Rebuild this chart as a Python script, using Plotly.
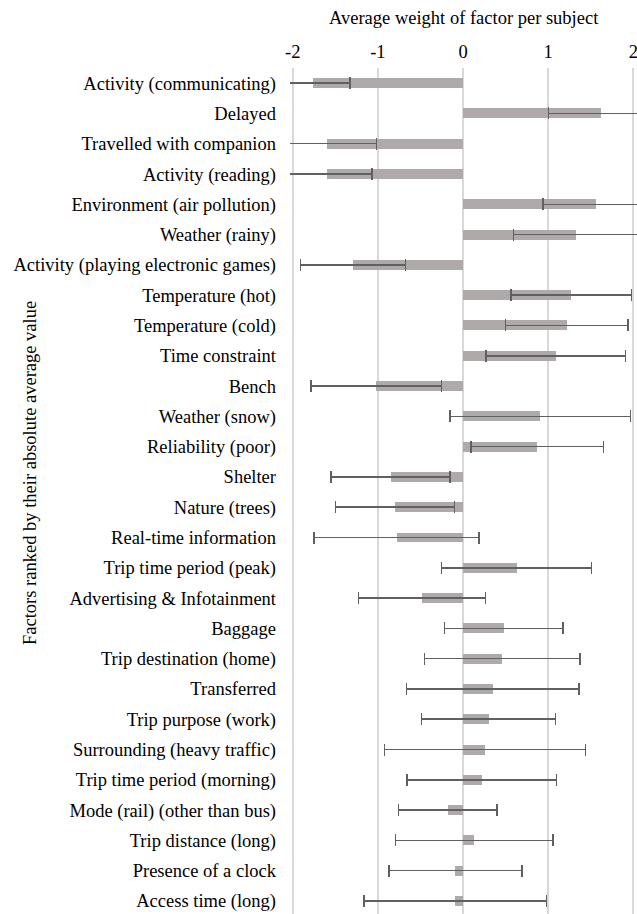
import plotly.graph_objects as go

categories = [
    "Activity (communicating)", "Delayed", "Travelled with companion",
    "Activity (reading)", "Environment (air pollution)", "Weather (rainy)",
    "Activity (playing electronic games)", "Temperature (hot)", "Temperature (cold)",
    "Time constraint", "Bench", "Weather (snow)", "Reliability (poor)", "Shelter",
    "Nature (trees)", "Real-time information", "Trip time period (peak)",
    "Advertising & Infotainment", "Baggage", "Trip destination (home)",
    "Transferred", "Trip purpose (work)", "Surrounding (heavy traffic)",
    "Trip time period (morning)", "Mode (rail) (other than bus)",
    "Trip distance (long)", "Presence of a clock", "Access time (long)",
]
mean_weight = [-1.76, 1.62, -1.60, -1.60, 1.56, 1.33, -1.29, 1.27, 1.22, 1.09,
               -1.02, 0.91, 0.87, -0.85, -0.80, -0.78, 0.63, -0.48, 0.48, 0.46,
               0.35, 0.30, 0.26, 0.22, -0.18, 0.13, -0.09, -0.09]
error = [0.43, 0.615, 0.583, 0.532, 0.622, 0.739, 0.616, 0.708, 0.718, 0.82,
         0.767, 1.06, 0.779, 0.70, 0.698, 0.968, 0.882, 0.745, 0.695, 0.912,
         1.011, 0.785, 1.18, 0.876, 0.579, 0.925, 0.78, 1.07]
x_ticks = [-2, -1, 0, 1, 2]
x_ticklabels = ["-2", "-1", "0", "1", "2"]

FONT = "Liberation Serif, Times New Roman, serif"

L, R, T, B = 290, 0, 68, 0
PW = 637 - L - R
PH = 914 - T - B

fig = go.Figure(go.Bar(
    x=mean_weight, y=categories, orientation="h",
    width=0.33,
    marker=dict(color="#AEAAAA", line=dict(width=0)),
    error_x=dict(type="data", array=error, visible=True,
                 color="#606060", thickness=1.5, width=6),
))

fig.update_layout(
    width=637, height=914,
    margin=dict(l=L, r=R, t=T, b=B),
    plot_bgcolor="white", paper_bgcolor="white",
    font=dict(family=FONT, size=18.5, color="black"),
    showlegend=False,
    bargap=0,
)
fig.update_xaxes(
    side="top", range=[-2.0317, 2.0435],
    tickvals=x_ticks, ticktext=x_ticklabels,
    showgrid=True, gridcolor="#d9d9d9", gridwidth=1.5,
    zeroline=True, zerolinecolor="#d9d9d9", zerolinewidth=1.5,
    showline=False, ticks="",
    ticklabeloverflow="allow", ticklabelstandoff=5,
    tickfont=dict(family=FONT, size=18.5, color="black"),
)
fig.update_yaxes(
    type="category", categoryorder="array", categoryarray=categories,
    range=[27.43, -0.5],
    showgrid=False, zeroline=False, showline=False, ticks="",
    ticklabelstandoff=13,
    tickfont=dict(family=FONT, size=18.5, color="black"),
)
fig.add_annotation(
    text="Average weight of factor per subject",
    xref="paper", yref="paper", x=(463.5 - L) / PW, y=1 + (T - 18) / PH,
    xanchor="center", yanchor="middle", showarrow=False,
    font=dict(family=FONT, size=18.5, color="black"),
)
fig.add_annotation(
    text="Factors ranked by their absolute average value",
    xref="paper", yref="paper", x=(30 - L) / PW, y=1 - (473 - T) / PH,
    xanchor="center", yanchor="middle", showarrow=False, textangle=-90,
    font=dict(family=FONT, size=18.5, color="black"),
)

fig.write_html(
    "out.html",
    config={"displayModeBar": False},
    post_script="document.body.style.margin='0';document.body.style.overflow='hidden';",
)
